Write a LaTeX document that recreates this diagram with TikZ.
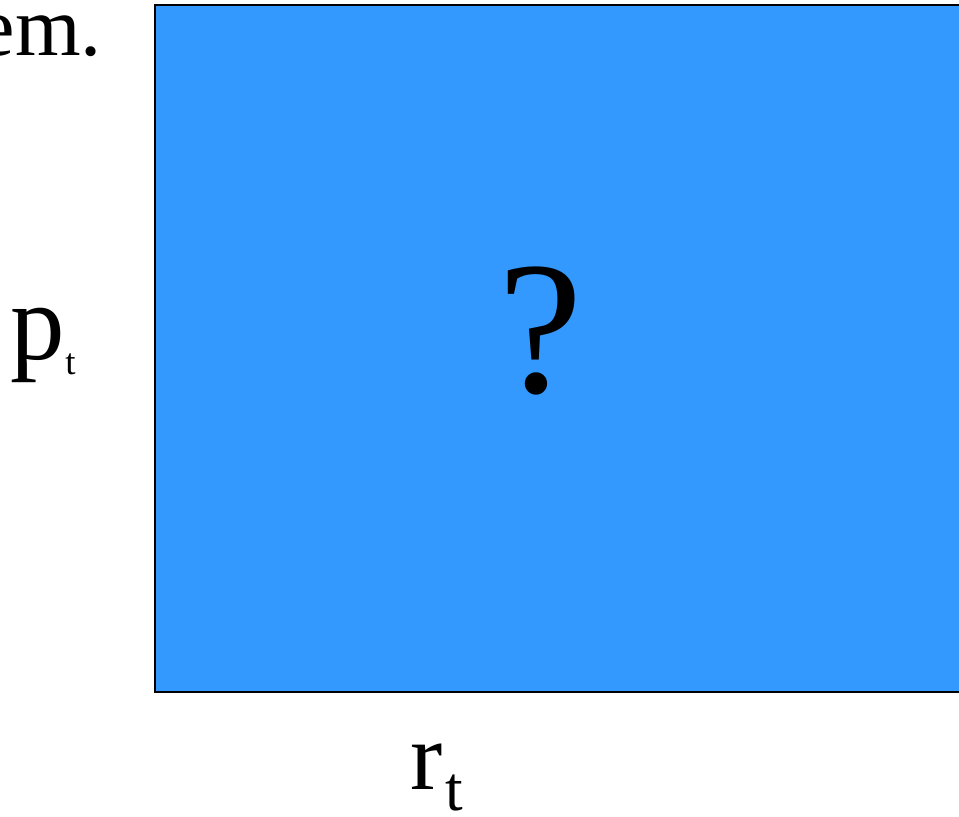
\documentclass[tikz,border=0pt]{standalone}
\usepackage{fontspec}
\setmainfont{Liberation Serif}
\definecolor{boxblue}{HTML}{3399FF}
\tikzset{
  lbl/.style={inner sep=0pt, outer sep=0pt},
  payoffbox/.style={draw=black, line width=0.04cm, fill=boxblue, minimum width=16.5cm, minimum height=13.74cm, inner sep=0pt}
}
\begin{document}
\begin{tikzpicture}
			\clip (0,0) rectangle (19.18,16.32);
			
			% khung giua
			\node[payoffbox] (payoff) at (11.35,9.35) {};
			\node[lbl, anchor=base] (qmark) at (10.82,8.46) {\fontsize{108}{108}\selectfont ?};
			
			% chu o tren
			\node[lbl, anchor=base east] (em) at (2.04,15.2) {\fontsize{48}{48}\selectfont em.};
			
			% nhan hai truc
			\node[lbl, anchor=base west] (pt) at (0.22,9.12) {\fontsize{62}{62}\selectfont p\raisebox{-8pt}{\fontsize{21}{21}\selectfont t}};
			\node[lbl, anchor=base west] (rt) at (8.2,0.54) {\fontsize{55}{55}\selectfont r\hspace{2pt}\raisebox{-12pt}{\fontsize{36}{36}\selectfont t}};
	\end{tikzpicture}
\end{document}
